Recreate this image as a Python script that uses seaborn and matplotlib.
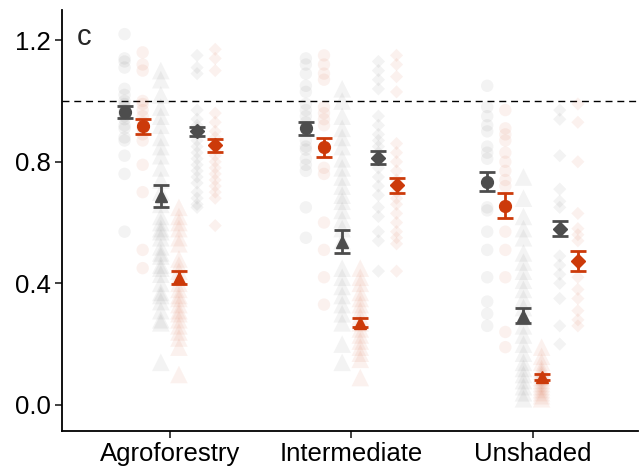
import numpy as np
import pandas as pd
import matplotlib
matplotlib.use("Agg")
import matplotlib.pyplot as plt
import seaborn as sns

# ---- data ----
habitats = ["Agroforestry", "Intermediate", "Unshaded"]
treatments = ["grey", "orange"]
shapes = ["circle", "triangle", "diamond"]

# raw observations, per habitat / shape / treatment
agro_circle_grey = [1.22, 1.14, 1.13, 1.11, 1.04, 1.02, 1.00, 0.99, 0.98, 0.97, 0.96, 0.95,
                    0.94, 0.92, 0.91, 0.88, 0.87, 0.82, 0.76, 0.57]
agro_circle_orange = [1.16, 1.12, 1.10, 1.00, 0.99, 0.97, 0.95, 0.93, 0.91, 0.89, 0.87,
                      0.79, 0.70, 0.51, 0.45]
agro_triangle_grey = [1.10, 1.07, 1.02, 0.98, 0.95, 0.92, 0.88, 0.85, 0.82, 0.78, 0.74,
                      0.70, 0.66, 0.62, 0.60, 0.58, 0.57, 0.55, 0.52, 0.50, 0.49, 0.46,
                      0.45, 0.43, 0.40, 0.37, 0.36, 0.34, 0.31, 0.28, 0.27, 0.14]
agro_triangle_orange = [0.65, 0.62, 0.60, 0.58, 0.55, 0.53, 0.48, 0.46, 0.44, 0.42, 0.40,
                        0.38, 0.36, 0.35, 0.33, 0.31, 0.30, 0.28, 0.26, 0.24, 0.22, 0.19,
                        0.10]
agro_diamond_grey = [1.15, 1.11, 1.09, 0.97, 0.94, 0.92, 0.91, 0.90, 0.89, 0.87, 0.85,
                     0.83, 0.81, 0.79, 0.77, 0.75, 0.73, 0.70, 0.68, 0.66, 0.65]
agro_diamond_orange = [1.17, 1.14, 1.10, 0.96, 0.93, 0.90, 0.88, 0.86, 0.84, 0.82, 0.80,
                       0.78, 0.76, 0.74, 0.72, 0.70, 0.68, 0.59]

inter_circle_grey = [1.14, 1.12, 1.09, 1.05, 1.03, 0.99, 0.97, 0.95, 0.93, 0.91, 0.87,
                     0.85, 0.84, 0.81, 0.79, 0.77, 0.65, 0.55]
inter_circle_orange = [1.15, 1.12, 1.09, 1.07, 0.98, 0.96, 0.94, 0.92, 0.78, 0.76, 0.60,
                       0.51, 0.42, 0.33]
inter_triangle_grey = [1.04, 1.00, 0.95, 0.91, 0.88, 0.85, 0.81, 0.78, 0.75, 0.72, 0.69,
                       0.67, 0.64, 0.61, 0.58, 0.54, 0.45, 0.42, 0.39, 0.36, 0.33, 0.30,
                       0.27, 0.20, 0.14]
inter_triangle_orange = [0.45, 0.42, 0.40, 0.37, 0.35, 0.33, 0.31, 0.29, 0.27, 0.25, 0.23,
                         0.21, 0.19, 0.17, 0.15, 0.09]
inter_diamond_grey = [1.13, 1.10, 1.07, 1.04, 0.95, 0.92, 0.89, 0.87, 0.85, 0.83, 0.81,
                      0.78, 0.75, 0.72, 0.69, 0.65, 0.62, 0.57, 0.54, 0.44]
inter_diamond_orange = [1.15, 1.12, 1.08, 1.03, 0.86, 0.83, 0.80, 0.77, 0.74, 0.72, 0.70,
                        0.68, 0.66, 0.63, 0.60, 0.57, 0.55, 0.53, 0.44]

unsh_circle_grey = [1.05, 0.98, 0.95, 0.92, 0.90, 0.85, 0.83, 0.81, 0.73, 0.65, 0.64,
                    0.57, 0.51, 0.42, 0.34, 0.30, 0.26]
unsh_circle_orange = [0.97, 0.91, 0.89, 0.87, 0.83, 0.80, 0.77, 0.74, 0.72, 0.57, 0.51,
                      0.42, 0.24, 0.19]
unsh_triangle_grey = [0.75, 0.68, 0.58, 0.62, 0.55, 0.50, 0.47, 0.44, 0.41, 0.38, 0.35,
                      0.32, 0.29, 0.26, 0.23, 0.20, 0.17, 0.14, 0.12, 0.10, 0.08, 0.06,
                      0.04, 0.02]
unsh_triangle_orange = [0.19, 0.16, 0.14, 0.12, 0.11, 0.10, 0.09, 0.08, 0.07, 0.06, 0.05,
                        0.04, 0.03, 0.02]
unsh_diamond_grey = [0.97, 0.94, 0.82, 0.71, 0.67, 0.65, 0.49, 0.46, 0.43, 0.40, 0.35,
                     0.26, 0.20]
unsh_diamond_orange = [0.99, 0.93, 0.80, 0.63, 0.58, 0.56, 0.54, 0.42, 0.38, 0.35, 0.31,
                       0.28, 0.26]

# group means and standard errors (Agroforestry, Intermediate, Unshaded)
mean_circle_grey = [0.963, 0.910, 0.735]
mean_circle_orange = [0.917, 0.847, 0.656]
mean_triangle_grey = [0.686, 0.537, 0.293]
mean_triangle_orange = [0.419, 0.270, 0.092]
mean_diamond_grey = [0.900, 0.814, 0.580]
mean_diamond_orange = [0.854, 0.722, 0.472]

se_circle_grey = [0.020, 0.022, 0.030]
se_circle_orange = [0.024, 0.030, 0.040]
se_triangle_grey = [0.036, 0.038, 0.025]
se_triangle_orange = [0.020, 0.015, 0.010]
se_diamond_grey = [0.015, 0.020, 0.025]
se_diamond_orange = [0.022, 0.025, 0.033]

raw = {
    ("Agroforestry", "circle", "grey"): agro_circle_grey,
    ("Agroforestry", "circle", "orange"): agro_circle_orange,
    ("Agroforestry", "triangle", "grey"): agro_triangle_grey,
    ("Agroforestry", "triangle", "orange"): agro_triangle_orange,
    ("Agroforestry", "diamond", "grey"): agro_diamond_grey,
    ("Agroforestry", "diamond", "orange"): agro_diamond_orange,
    ("Intermediate", "circle", "grey"): inter_circle_grey,
    ("Intermediate", "circle", "orange"): inter_circle_orange,
    ("Intermediate", "triangle", "grey"): inter_triangle_grey,
    ("Intermediate", "triangle", "orange"): inter_triangle_orange,
    ("Intermediate", "diamond", "grey"): inter_diamond_grey,
    ("Intermediate", "diamond", "orange"): inter_diamond_orange,
    ("Unshaded", "circle", "grey"): unsh_circle_grey,
    ("Unshaded", "circle", "orange"): unsh_circle_orange,
    ("Unshaded", "triangle", "grey"): unsh_triangle_grey,
    ("Unshaded", "triangle", "orange"): unsh_triangle_orange,
    ("Unshaded", "diamond", "grey"): unsh_diamond_grey,
    ("Unshaded", "diamond", "orange"): unsh_diamond_orange,
}
means = {
    ("circle", "grey"): (mean_circle_grey, se_circle_grey),
    ("circle", "orange"): (mean_circle_orange, se_circle_orange),
    ("triangle", "grey"): (mean_triangle_grey, se_triangle_grey),
    ("triangle", "orange"): (mean_triangle_orange, se_triangle_orange),
    ("diamond", "grey"): (mean_diamond_grey, se_diamond_grey),
    ("diamond", "orange"): (mean_diamond_orange, se_diamond_orange),
}

# ---- styling ----
colors = {"grey": "#4d4d4d", "orange": "#cc3a0a"}
markers = {"circle": "o", "triangle": "^", "diamond": "D"}
raw_size = {"circle": 80, "triangle": 160, "diamond": 45}
mean_size = {"circle": 8.5, "triangle": 9, "diamond": 7}
order = [(s, t) for s in shapes for t in treatments]
offsets = dict(zip(order, np.linspace(-0.25, 0.25, len(order))))

rows = []
for (hab, shp, trt), vals in raw.items():
    for v in vals:
        rows.append({"habitat": hab, "shape": shp, "treatment": trt,
                     "x": habitats.index(hab) + offsets[(shp, trt)], "value": v})
df = pd.DataFrame(rows)

sns.set_theme(style="ticks")
plt.rcParams["font.family"] = ["Liberation Sans", "DejaVu Sans"]

fig = plt.figure(figsize=(6.39, 4.67), dpi=100)
ax = fig.add_axes([0.097, 0.077, 0.901, 0.902])

ax.axhline(1.0, color="black", lw=1.0, ls=(0, (5, 3.5)), zorder=1)

for shp in shapes:
    sub = df[df["shape"] == shp]
    sns.scatterplot(data=sub, x="x", y="value", hue="treatment", palette=colors,
                    marker=markers[shp], s=raw_size[shp], alpha=0.065, linewidth=0,
                    legend=False, ax=ax, zorder=2)

for (shp, trt), (m, se) in means.items():
    xs = np.arange(len(habitats)) + offsets[(shp, trt)]
    ax.errorbar(xs, m, yerr=se, fmt=markers[shp], color=colors[trt],
                markersize=mean_size[shp], elinewidth=2.0, capsize=5.5, capthick=2.0,
                zorder=4)

ax.set_xlim(-0.595, 2.58)
ax.set_ylim(-0.086, 1.30)
ax.set_xticks(range(len(habitats)))
ax.set_xticklabels(habitats)
ax.set_yticks([0.0, 0.4, 0.8, 1.2])
ax.set_yticklabels(["0.0", "0.4", "0.8", "1.2"])
ax.set_xlabel("")
ax.set_ylabel("")
ax.tick_params(axis="both", labelsize=18.5, length=5, width=1.3, color="#333333",
               labelcolor="black", pad=3)
for side in ["left", "bottom"]:
    ax.spines[side].set_linewidth(1.3)
    ax.spines[side].set_color("black")
sns.despine(ax=ax)

ax.text(0.025, 0.968, "c", transform=ax.transAxes, fontsize=21, va="top", ha="left")

fig.savefig("out.png", dpi=100)
